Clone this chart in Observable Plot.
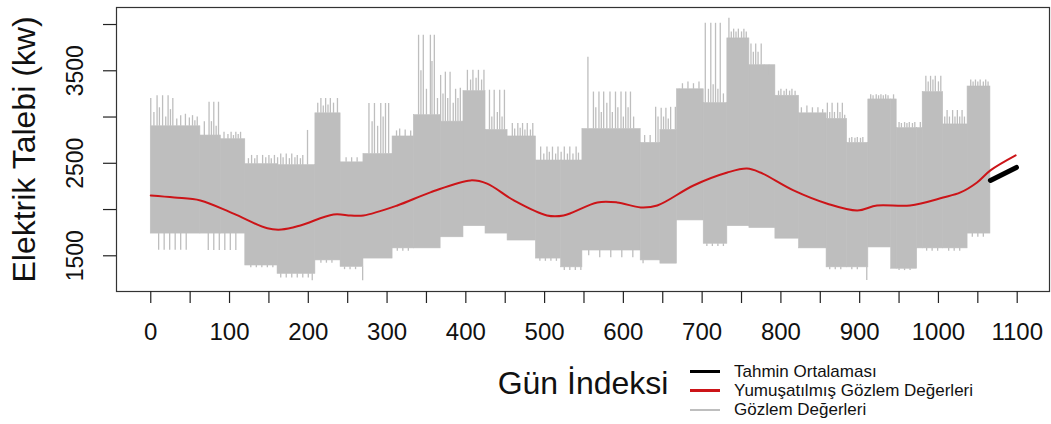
<!DOCTYPE html>
<html><head><meta charset="utf-8">
<script src="https://cdn.jsdelivr.net/npm/d3@7"></script>
<script src="https://cdn.jsdelivr.net/npm/@observablehq/plot@0.6"></script>
<style>
body{margin:0;background:#fff;font-family:"Liberation Sans",Arial,sans-serif;}
#wrap{position:relative;width:1051px;height:424px;}
#legend{position:absolute;left:690px;top:362px;font-size:17px;color:#111;line-height:19px;}
#legend .row{display:flex;align-items:center;height:19px;}
#legend .sw{width:30px;margin-right:14px;}
</style></head><body><div id="wrap"></div>
<script>
// Observed daily demand: blocky envelope segments (day range, low, high)
const segStart = [0, 63, 89, 120, 161, 209, 241, 270, 307, 334, 368, 397, 425, 453, 489, 521, 548, 622, 647, 668, 702, 732, 760, 793, 823, 858, 884, 911, 940, 947, 973, 980, 1006, 1037];
const segEnd   = [63, 89, 120, 161, 209, 241, 270, 307, 334, 368, 397, 425, 453, 489, 521, 548, 622, 647, 668, 702, 732, 760, 793, 823, 858, 884, 911, 940, 947, 973, 980, 1006, 1037, 1066];
const segLow   = [1740, 1740, 1740, 1395, 1305, 1450, 1380, 1470, 1580, 1580, 1700, 1820, 1740, 1665, 1470, 1375, 1557, 1450, 1415, 1882, 1630, 1820, 1800, 1685, 1580, 1375, 1375, 1590, 1360, 1360, 1580, 1580, 1580, 1740];
const segHigh  = [2900, 2800, 2760, 2490, 2480, 3040, 2510, 2600, 2790, 3020, 2950, 3280, 2860, 2790, 2530, 2530, 2870, 2720, 2860, 3300, 3150, 3850, 3560, 3230, 3040, 2980, 2720, 3190, 3190, 2880, 2880, 3270, 2920, 3330];
// Upward peaks (main weekly peaks)
const spikeDay  = [0, 8, 15, 22, 28, 38, 44, 53, 59, 68, 74, 80, 86, 93, 102, 108, 114, 128, 135, 142, 150, 157, 165, 172, 179, 186, 193, 199, 216, 222, 228, 237, 248, 255, 262, 277, 284, 292, 298, 302, 312, 340, 346, 355, 360, 368, 374, 380, 387, 393, 402, 409, 416, 423, 430, 436, 443, 449, 459, 466, 472, 478, 485, 495, 503, 510, 517, 525, 532, 540, 555, 562, 569, 575, 583, 590, 597, 603, 609, 641, 648, 654, 660, 666, 671, 704, 711, 717, 723, 734, 737, 743, 750, 756, 762, 768, 775, 800, 807, 814, 859, 865, 872, 878, 890, 897, 904, 917, 924, 930, 936, 953, 960, 967, 984, 990, 996, 1003, 1011, 1018, 1024, 1030, 1041, 1047, 1053, 1060];
const spikeHigh = [3200, 3230, 3230, 3230, 3200, 3015, 3030, 3015, 3000, 2950, 3160, 3160, 3160, 2835, 2835, 2835, 2835, 2585, 2585, 2585, 2585, 2585, 2600, 2600, 2600, 2585, 2585, 2855, 3200, 3200, 3200, 3200, 2560, 2560, 2560, 3146, 3146, 3146, 3146, 3146, 2850, 3884, 3884, 3884, 3884, 3450, 3485, 3485, 3300, 3310, 3505, 3505, 3505, 3505, 3290, 3290, 3290, 3290, 2930, 2930, 2930, 2930, 2930, 2675, 2675, 2675, 2675, 2675, 2675, 2675, 3645, 3270, 3270, 3270, 3270, 3270, 3270, 3270, 3270, 3105, 3094, 3094, 3105, 3105, 3105, 4013, 4013, 4013, 4013, 4068, 3920, 3920, 3920, 3920, 3790, 3790, 3790, 3300, 3300, 3300, 3150, 3150, 3150, 3150, 2780, 2780, 2780, 3230, 3230, 3230, 3230, 2930, 2930, 2930, 3440, 3440, 3440, 3440, 3070, 3070, 3070, 3070, 3400, 3400, 3400, 3400];
// Smaller peaks between the main ones
const minorDay  = [4, 11, 19, 25, 33, 49, 56, 77, 83, 98, 105, 111, 124, 132, 146, 153, 161, 168, 176, 183, 190, 212, 219, 225, 232, 281, 288, 295, 316, 323, 330, 343, 350, 357, 364, 371, 377, 384, 390, 406, 413, 420, 433, 440, 446, 462, 469, 475, 482, 499, 506, 514, 521, 529, 536, 543, 565, 572, 579, 586, 593, 600, 606, 613, 627, 634, 644, 651, 657, 675, 682, 689, 696, 708, 714, 720, 727, 740, 746, 753, 765, 771, 779, 785, 797, 804, 811, 818, 826, 833, 840, 847, 853, 862, 868, 875, 881, 887, 894, 901, 914, 921, 927, 933, 943, 950, 957, 963, 970, 977, 987, 993, 1000, 1008, 1014, 1021, 1027, 1033, 1044, 1050, 1057, 1063];
const minorHigh = [3050, 3100, 3000, 3080, 2980, 2990, 2960, 2950, 2900, 2810, 2800, 2810, 2550, 2550, 2560, 2550, 2560, 2560, 2550, 2560, 2550, 3150, 3120, 3130, 3150, 2950, 2900, 3000, 2870, 2860, 2850, 3500, 3300, 3600, 3200, 3250, 3200, 3150, 3200, 3400, 3420, 3400, 3000, 3050, 3000, 2870, 2880, 2860, 2860, 2600, 2620, 2600, 2620, 2600, 2600, 2610, 3100, 3050, 3150, 3050, 3100, 3000, 3100, 3000, 2800, 2800, 3000, 3000, 2980, 3360, 3380, 3360, 3380, 3300, 3350, 3300, 3250, 3950, 3950, 3950, 3700, 3700, 3500, 3450, 3280, 3280, 3280, 3280, 3100, 3120, 3100, 3100, 3080, 3050, 3050, 3050, 3020, 2770, 2770, 2770, 3240, 3240, 3240, 3240, 3240, 2940, 2940, 2940, 2940, 2940, 3380, 3400, 3380, 3000, 3000, 3000, 3000, 3000, 3380, 3380, 3380, 3380];
// Downward troughs
const dipDay = [10, 17, 24, 31, 38, 45, 73, 80, 87, 94, 101, 108, 127, 134, 141, 148, 155, 165, 172, 179, 186, 193, 200, 205, 216, 223, 230, 246, 253, 260, 269, 313, 320, 327, 494, 501, 508, 515, 525, 532, 539, 546, 556, 570, 584, 598, 612, 625, 706, 713, 720, 727, 862, 869, 876, 890, 897, 909, 950, 957, 964, 985, 992, 999, 1013, 1020, 1027, 1043, 1050, 1057];
const dipLow = [1560, 1560, 1560, 1560, 1560, 1560, 1557, 1557, 1557, 1557, 1557, 1557, 1370, 1370, 1370, 1370, 1370, 1260, 1260, 1260, 1260, 1260, 1260, 1230, 1420, 1420, 1420, 1350, 1350, 1350, 1230, 1550, 1550, 1550, 1440, 1440, 1440, 1440, 1340, 1340, 1340, 1340, 1500, 1480, 1480, 1480, 1480, 1415, 1600, 1600, 1600, 1600, 1350, 1350, 1350, 1350, 1350, 1233, 1340, 1340, 1340, 1550, 1550, 1550, 1550, 1550, 1550, 1700, 1700, 1700];
// Smoothed observations (red)
const smoothDay   = [0, 30, 63, 105, 148, 166, 190, 232, 254, 270, 313, 355, 406, 427, 461, 503, 524, 567, 592, 622, 643, 689, 732, 757, 774, 816, 859, 897, 922, 964, 1006, 1028, 1049, 1066, 1098];
const smoothValue = [2152, 2130, 2098, 1955, 1797, 1784, 1828, 1946, 1936, 1936, 2044, 2185, 2315, 2280, 2098, 1936, 1936, 2077, 2077, 2023, 2044, 2260, 2400, 2443, 2400, 2207, 2063, 1990, 2044, 2044, 2130, 2185, 2293, 2423, 2585];
// Forecast mean (black)
const forecastDay = [1066, 1099];
const forecastValue = [2315, 2455];
// Axes
const xTicks = [0, 50, 100, 150, 200, 250, 300, 350, 400, 450, 500, 550, 600, 650, 700, 750, 800, 850, 900, 950, 1000, 1050, 1100];
const yTicks = [1500, 2000, 2500, 3000, 3500, 4000];
const yLabels = [1500, 2500, 3500];
const xTitle = "Gün İndeksi";
const yTitle = "Elektrik Talebi (kw)";
const legendLabels = ["Tahmin Ortalaması", "Yumuşatılmış Gözlem Değerleri", "Gözlem Değerleri"];
const colors = {obs: "#bebebe", smooth: "#cc1418", fc: "#000000"};

const segs = segStart.map((s, i) => ({s, e: segEnd[i], lo: segLow[i], hi: segHigh[i]}));
const segAt = d => segs.find(g => d >= g.s && d < g.e) || segs[segs.length - 1];
const spikes = spikeDay.map((d, i) => ({d, v: spikeHigh[i], base: segAt(d).hi}))
  .concat(minorDay.map((d, i) => ({d, v: minorHigh[i], base: segAt(d).hi})));
const dips = dipDay.map((d, i) => ({d, v: dipLow[i], base: segAt(d).lo}));
const smooth = smoothDay.map((d, i) => ({d, v: smoothValue[i]}));
const fc = forecastDay.map((d, i) => ({d, v: forecastValue[i]}));

const chart = Plot.plot({
  width: 1051, height: 424,
  marginLeft: 116, marginRight: 2, marginTop: 7, marginBottom: 133,
  style: {fontFamily: "'Liberation Sans', Arial, sans-serif", color: "#111", background: "#fff"},
  x: {domain: [-43.5, 1141]},
  y: {domain: [1114, 4184]},
  marks: [
    Plot.rect(segs, {x1: "s", x2: "e", y1: "lo", y2: "hi", fill: colors.obs, stroke: colors.obs, strokeWidth: 0.6}),
    Plot.ruleX(spikes, {x: "d", y1: "base", y2: "v", stroke: colors.obs, strokeWidth: 1.3}),
    Plot.ruleX(dips, {x: "d", y1: "base", y2: "v", stroke: colors.obs, strokeWidth: 1.3}),
    Plot.line(smooth, {x: "d", y: "v", stroke: colors.smooth, strokeWidth: 2, curve: "catmull-rom"}),
    Plot.line(fc, {x: "d", y: "v", stroke: colors.fc, strokeWidth: 5}),
    Plot.frame({stroke: "#333", strokeWidth: 1.2}),
    Plot.axisX({ticks: xTicks, tickSize: 12, tickPadding: 19, fontSize: 24, label: null,
      tickFormat: d => d % 100 === 0 ? String(d) : "", stroke: "#222", strokeWidth: 1.2}),
    Plot.axisY({ticks: yTicks, tickSize: 13, tickFormat: () => "", label: null, stroke: "#222", strokeWidth: 1.2}),
    Plot.text(yLabels, {y: d => d, text: d => String(d), frameAnchor: "left", dx: -41, rotate: -90, fontSize: 23, textAnchor: "middle", fill: "#111"}),
    Plot.text([yTitle], {frameAnchor: "left", dx: -92, rotate: -90, fontSize: 32, textAnchor: "middle", fill: "#111"}),
    Plot.text([xTitle], {frameAnchor: "bottom", dy: 102, lineAnchor: "bottom", fontSize: 32, textAnchor: "middle", fill: "#111"})
  ]
});
const wrap = document.getElementById("wrap");
wrap.appendChild(chart);

const legend = document.createElement("div");
legend.id = "legend";
const legendColors = [colors.fc, colors.smooth, colors.obs];
const legendWidths = [3, 3, 2];
legendLabels.forEach((t, i) => {
  const row = document.createElement("div");
  row.className = "row";
  const sw = document.createElement("div");
  sw.className = "sw";
  sw.style.borderTop = `${legendWidths[i]}px solid ${legendColors[i]}`;
  const lab = document.createElement("span");
  lab.textContent = t;
  row.appendChild(sw); row.appendChild(lab);
  legend.appendChild(row);
});
wrap.appendChild(legend);
</script></body></html>
